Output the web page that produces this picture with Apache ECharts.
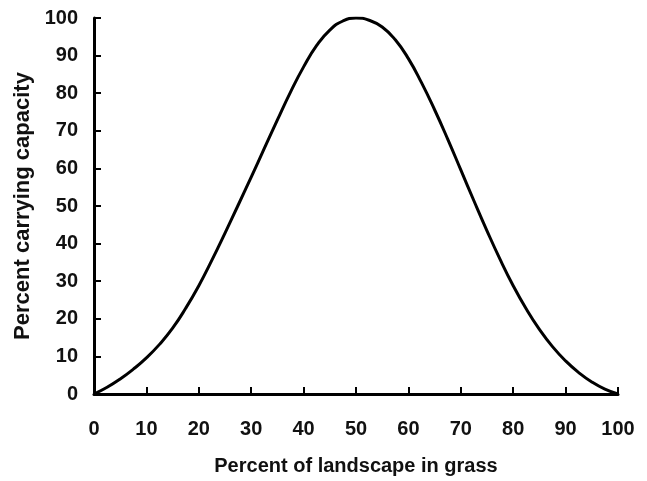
<!DOCTYPE html>
<html>
<head>
<meta charset="utf-8">
<script src="https://cdn.jsdelivr.net/npm/echarts@6/dist/echarts.min.js"></script>
<style>
html,body{margin:0;padding:0;background:#fff;}
#chart{width:647px;height:481px;}
</style>
</head>
<body>
<div id="chart"></div>
<script>
// Data
const xValues = [0, 2.5, 5, 7.5, 10, 12.5, 15, 17.5, 20, 22.5, 25, 27.5, 30, 32.5, 35, 37.5, 40, 42.5, 45, 47.5, 50,
                 52.5, 55, 57.5, 60, 62.5, 65, 67.5, 70, 72.5, 75, 77.5, 80, 82.5, 85, 87.5, 90, 92.5, 95, 97.5, 100];
const capacity = [0, 1.8, 4.0, 6.6, 9.6, 13.2, 17.5, 22.8, 28.8, 35.6, 42.8, 50.2, 57.7, 65.3, 72.9, 80.3, 87.0, 92.7, 96.8, 99.2, 100,
                  99.4, 97.6, 94.2, 89.2, 82.8, 75.6, 67.8, 59.6, 51.4, 43.4, 35.8, 28.8, 22.6, 17.2, 12.6, 8.8, 5.7, 3.2, 1.3, 0];
const xTitle = 'Percent of landscape in grass';
const yTitle = 'Percent carrying capacity';

const chart = echarts.init(document.getElementById('chart'), null, {renderer: 'canvas'});
const font = 'Liberation Sans, Arial, sans-serif';
const axisCommon = {
  type: 'value', min: 0, max: 100, interval: 10,
  splitLine: {show: false},
  axisLine: {show: true, onZero: false, lineStyle: {color: '#000', width: 3}},
  axisTick: {show: true, inside: true, length: 7, lineStyle: {color: '#000', width: 2}},
  axisLabel: {color: '#111', fontSize: 20, fontWeight: 'bold', fontFamily: font},
  nameLocation: 'middle'
};
chart.setOption({
  animation: false,
  backgroundColor: '#fff',
  grid: {left: 94, right: 29, top: 18, bottom: 86, containLabel: false},
  xAxis: Object.assign({}, axisCommon, {
    name: xTitle, nameGap: 62,
    nameTextStyle: {color: '#111', fontSize: 20, fontWeight: 'bold', fontFamily: font},
    axisLabel: Object.assign({}, axisCommon.axisLabel, {margin: 25})
  }),
  yAxis: Object.assign({}, axisCommon, {
    name: yTitle, nameGap: 57, nameRotate: 90,
    nameTextStyle: {color: '#111', fontSize: 22, fontWeight: 'bold', fontFamily: font},
    axisLabel: Object.assign({}, axisCommon.axisLabel, {margin: 16})
  }),
  series: [{
    type: 'line',
    data: xValues.map((x, i) => [x, capacity[i]]),
    smooth: true,
    showSymbol: false,
    lineStyle: {color: '#000', width: 3}
  }]
});
</script>
</body>
</html>
